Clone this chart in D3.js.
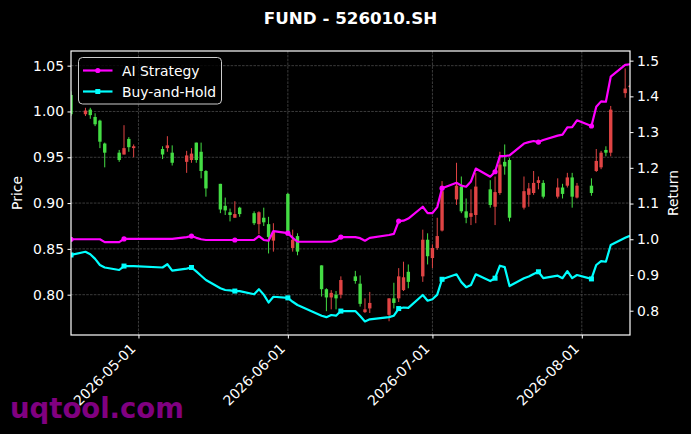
<!DOCTYPE html>
<html>
<head>
<meta charset="utf-8">
<script src="https://cdn.jsdelivr.net/npm/d3@7"></script>
<style>
  html, body { margin: 0; padding: 0; background: #000; }
  svg { display: block; }
  text { font-family: "DejaVu Sans", sans-serif; }
</style>
</head>
<body>
<script>
const dates = ["2026-04-17","2026-04-20","2026-04-21","2026-04-22","2026-04-23","2026-04-24","2026-04-27","2026-04-28","2026-04-29","2026-04-30",
"2026-05-06","2026-05-07","2026-05-08","2026-05-11","2026-05-12","2026-05-13","2026-05-14","2026-05-15",
"2026-05-18","2026-05-19","2026-05-20","2026-05-21","2026-05-22","2026-05-25","2026-05-26","2026-05-27","2026-05-28","2026-05-29",
"2026-06-01","2026-06-02","2026-06-03","2026-06-08","2026-06-09","2026-06-10","2026-06-11","2026-06-12",
"2026-06-15","2026-06-16","2026-06-17","2026-06-18","2026-06-22","2026-06-23","2026-06-24","2026-06-25","2026-06-26",
"2026-06-29","2026-06-30","2026-07-01","2026-07-02","2026-07-03","2026-07-06","2026-07-07","2026-07-08","2026-07-09","2026-07-10",
"2026-07-13","2026-07-14","2026-07-15","2026-07-16","2026-07-17","2026-07-20","2026-07-21","2026-07-22","2026-07-23","2026-07-24",
"2026-07-27","2026-07-28","2026-07-29","2026-07-30","2026-07-31","2026-08-03","2026-08-04","2026-08-05","2026-08-06","2026-08-07",
"2026-08-10","2026-08-11"];

const openP = [1.018,0.997,1.002,0.994,0.990,0.965,0.955,0.953,0.970,0.960,
0.959,0.960,0.955,0.945,0.947,0.966,0.956,0.935,
0.921,0.897,0.890,0.884,0.895,0.889,0.877,0.884,0.877,0.859,
0.910,0.851,0.864,0.832,0.806,0.797,0.800,0.800,
0.820,0.812,0.781,0.785,0.778,0.796,0.796,0.805,0.825,
0.820,0.860,0.840,0.851,0.870,0.904,0.918,0.891,0.885,0.887,
0.915,0.896,0.911,0.945,0.947,0.895,0.909,0.911,0.922,0.922,
0.907,0.917,0.919,0.928,0.906,0.919,0.935,0.939,0.958,0.955,
1.020,1.027];
const highP = [1.022,1.004,1.004,0.998,0.991,0.966,0.958,0.985,0.972,0.964,
0.962,0.973,0.963,0.957,0.960,0.966,0.966,0.936,
0.921,0.906,0.894,0.902,0.896,0.891,0.891,0.895,0.885,0.878,
0.911,0.871,0.867,0.832,0.807,0.805,0.804,0.820,
0.826,0.821,0.796,0.803,0.796,0.813,0.829,0.836,0.833,
0.871,0.867,0.855,0.884,0.924,0.944,0.929,0.905,0.915,0.933,
0.925,0.929,0.956,0.964,0.949,0.929,0.922,0.935,0.929,0.925,
0.927,0.921,0.933,0.933,0.922,0.927,0.959,0.957,0.962,1.006,
1.047,1.029];
const lowP = [0.995,0.995,0.992,0.984,0.960,0.939,0.945,0.953,0.956,0.950,
0.948,0.956,0.941,0.933,0.944,0.944,0.927,0.907,
0.889,0.887,0.880,0.884,0.885,0.876,0.866,0.875,0.845,0.847,
0.867,0.847,0.843,0.798,0.782,0.784,0.784,0.796,
0.812,0.787,0.780,0.780,0.771,0.785,0.792,0.804,0.807,
0.814,0.833,0.829,0.849,0.869,0.898,0.889,0.878,0.876,0.878,
0.895,0.876,0.909,0.931,0.880,0.893,0.896,0.909,0.915,0.905,
0.905,0.905,0.917,0.895,0.905,0.908,0.934,0.937,0.951,0.951,
1.015,1.026];
const closeP = [0.997,1.001,0.996,0.986,0.967,0.955,0.947,0.960,0.961,0.962,
0.953,0.963,0.944,0.952,0.954,0.947,0.935,0.916,
0.893,0.892,0.887,0.888,0.888,0.878,0.890,0.879,0.863,0.869,
0.869,0.860,0.847,0.806,0.797,0.802,0.796,0.816,
0.815,0.790,0.784,0.791,0.796,0.791,0.820,0.819,0.814,
0.860,0.842,0.851,0.864,0.913,0.919,0.891,0.884,0.889,0.918,
0.898,0.912,0.942,0.940,0.884,0.913,0.916,0.922,0.925,0.907,
0.917,0.910,0.928,0.907,0.919,0.911,0.946,0.955,0.955,1.002,
1.025,1.028];

const aiStrategy = [1.000,1.000,1.000,1.000,1.000,0.992,0.992,1.001,1.001,1.001,
1.001,1.001,1.001,1.006,1.009,1.004,1.000,0.998,
0.998,0.998,0.998,0.998,0.998,0.998,1.009,0.998,0.996,1.023,
1.017,1.004,0.993,0.993,0.993,0.993,0.997,1.006,
1.006,1.003,0.996,1.004,1.012,1.015,1.051,1.052,1.058,
1.091,1.073,1.073,1.090,1.143,1.158,1.150,1.147,1.162,1.198,
1.175,1.189,1.233,1.233,1.235,1.268,1.272,1.275,1.272,1.278,
1.290,1.293,1.313,1.314,1.333,1.317,1.371,1.386,1.385,1.455,
1.488,1.490];
const buyHold = [0.956,0.965,0.958,0.945,0.928,0.921,0.914,0.925,0.925,0.925,
0.921,0.930,0.912,0.918,0.921,0.910,0.898,0.886,
0.863,0.858,0.857,0.855,0.855,0.846,0.860,0.845,0.823,0.839,
0.836,0.825,0.816,0.786,0.782,0.788,0.786,0.799,
0.799,0.785,0.770,0.776,0.782,0.786,0.806,0.809,0.808,
0.844,0.828,0.832,0.845,0.888,0.902,0.880,0.866,0.872,0.902,
0.883,0.891,0.926,0.922,0.869,0.891,0.896,0.903,0.909,0.891,
0.898,0.891,0.911,0.891,0.900,0.889,0.928,0.939,0.937,0.984,
1.004,1.010];

const priceTicks = [0.80, 0.85, 0.90, 0.95, 1.00, 1.05];
const returnTicks = [0.8, 0.9, 1.0, 1.1, 1.2, 1.3, 1.4, 1.5];
const dateTicks = ["2026-05-01","2026-06-01","2026-07-01","2026-08-01"];
const seriesNames = ["AI Strategy", "Buy-and-Hold"];
const titleText = "FUND - 526010.SH";
const watermark = "uqtool.com";

const W = 691, H = 434;
const L = 71, R = 630, T = 51, B = 335;
const parse = d3.utcParse("%Y-%m-%d");
const fmt = d3.utcFormat("%Y-%m-%d");
const rows = dates.map((d, i) => ({date: parse(d), o: openP[i], h: highP[i], l: lowP[i], c: closeP[i], ai: aiStrategy[i], bh: buyHold[i]}));

const x = d3.scaleUtc().domain([rows[0].date, rows[rows.length-1].date]).range([L, R]);
const yP = d3.scaleLinear().domain([0.756, 1.066]).range([B, T]);
const yR = d3.scaleLinear().domain([0.732, 1.527]).range([B, T]);

const svg = d3.select("body").append("svg").attr("width", W).attr("height", H);
svg.append("rect").attr("width", W).attr("height", H).attr("fill", "#000");

svg.append("defs").append("clipPath").attr("id", "clip")
  .append("rect").attr("x", L).attr("y", T).attr("width", R - L).attr("height", B - T);

// grid
const grid = svg.append("g");
grid.selectAll(".gx").data(dateTicks).join("line")
  .attr("x1", d => x(parse(d))).attr("x2", d => x(parse(d)))
  .attr("y1", T).attr("y2", B)
  .attr("stroke", "#555").attr("stroke-width", 0.7).attr("stroke-dasharray", "2.6,1.2");
grid.selectAll(".gy").data(priceTicks).join("line")
  .attr("x1", L).attr("x2", R)
  .attr("y1", d => yP(d)).attr("y2", d => yP(d))
  .attr("stroke", "#555").attr("stroke-width", 0.7).attr("stroke-dasharray", "2.6,1.2");

// candles
const dayPx = x(parse("2026-04-18")) - x(parse("2026-04-17"));
const bw = dayPx * 0.7;
const upC = "#e04444", dnC = "#44dd44";
const cg = svg.append("g").attr("clip-path", "url(#clip)");
cg.selectAll(".wick").data(rows).join("line")
  .attr("x1", d => x(d.date)).attr("x2", d => x(d.date))
  .attr("y1", d => yP(d.h)).attr("y2", d => yP(d.l))
  .attr("stroke", d => d.c >= d.o ? upC : dnC).attr("stroke-width", 1);
cg.selectAll(".body").data(rows).join("rect")
  .attr("x", d => x(d.date) - bw / 2).attr("width", bw)
  .attr("y", d => yP(Math.max(d.o, d.c)))
  .attr("height", d => Math.max(1, Math.abs(yP(d.o) - yP(d.c))))
  .attr("fill", d => d.c >= d.o ? upC : dnC);

// lines
const lg = svg.append("g").attr("clip-path", "url(#clip)");
const colors = ["#ff00ff", "#00ffff"];
const keys = ["ai", "bh"];
keys.forEach((k, j) => {
  lg.append("path").datum(rows)
    .attr("d", d3.line().x(d => x(d.date)).y(d => yR(d[k])))
    .attr("fill", "none").attr("stroke", colors[j]).attr("stroke-width", 2.2)
    .attr("stroke-linejoin", "round");
  const mk = rows.filter((d, i) => i % 7 === 0);
  if (j === 0) {
    lg.selectAll(".m" + k).data(mk).join("circle")
      .attr("cx", d => x(d.date)).attr("cy", d => yR(d[k])).attr("r", 2.6).attr("fill", colors[j]);
  } else {
    lg.selectAll(".m" + k).data(mk).join("rect")
      .attr("x", d => x(d.date) - 2.5).attr("y", d => yR(d[k]) - 2.5)
      .attr("width", 5).attr("height", 5).attr("fill", colors[j]);
  }
});

// frame
svg.append("rect").attr("x", L).attr("y", T).attr("width", R - L).attr("height", B - T)
  .attr("fill", "none").attr("stroke", "#fff").attr("stroke-width", 1.2);

// axes
const fs = 13.9;
const xAxis = d3.axisBottom(x).tickValues(dateTicks.map(parse)).tickSize(3.5).tickFormat(fmt);
const gx = svg.append("g").attr("transform", `translate(0,${B})`).call(xAxis);
gx.select(".domain").remove();
gx.selectAll("line").attr("stroke", "#fff");
gx.selectAll("text").attr("fill", "#fff").attr("font-size", fs)
  .attr("text-anchor", "end").attr("dy", null).attr("y", null)
  .attr("transform", `translate(${-0.707 * 0.24 * fs},${7 + 0.707 * 0.76 * fs}) rotate(-45)`);

const yAxisL = d3.axisLeft(yP).tickValues(priceTicks).tickSize(3.5).tickPadding(3.5).tickFormat(d3.format(".2f"));
const gl = svg.append("g").attr("transform", `translate(${L},0)`).call(yAxisL);
gl.select(".domain").remove();
gl.selectAll("line").attr("stroke", "#fff");
gl.selectAll("text").attr("fill", "#fff").attr("font-size", fs);

const yAxisR = d3.axisRight(yR).tickValues(returnTicks).tickSize(3.5).tickPadding(3.5).tickFormat(d3.format(".1f"));
const gr = svg.append("g").attr("transform", `translate(${R},0)`).call(yAxisR);
gr.select(".domain").remove();
gr.selectAll("line").attr("stroke", "#fff");
gr.selectAll("text").attr("fill", "#fff").attr("font-size", fs);

// labels
svg.append("text").attr("transform", `translate(22,${(T + B) / 2}) rotate(-90)`)
  .attr("text-anchor", "middle").attr("fill", "#fff").attr("font-size", fs).text("Price");
svg.append("text").attr("transform", `translate(678,${(T + B) / 2}) rotate(-90)`)
  .attr("text-anchor", "middle").attr("fill", "#fff").attr("font-size", fs).text("Return");
svg.append("text").attr("x", (L + R) / 2).attr("y", 24).attr("text-anchor", "middle")
  .attr("fill", "#fff").attr("font-size", 16.7).attr("font-weight", "bold").text(titleText);

// legend
const leg = svg.append("g");
leg.append("rect").attr("x", 78.5).attr("y", 57.5).attr("width", 143).attr("height", 46.5)
  .attr("rx", 4).attr("fill", "#000").attr("fill-opacity", 0.8)
  .attr("stroke", "#ccc").attr("stroke-width", 1);
seriesNames.forEach((n, j) => {
  const cy = 70.5 + j * 21;
  leg.append("line").attr("x1", 83).attr("x2", 112.5).attr("y1", cy).attr("y2", cy)
    .attr("stroke", colors[j]).attr("stroke-width", 2.2);
  if (j === 0) leg.append("circle").attr("cx", 97.8).attr("cy", cy).attr("r", 2.6).attr("fill", colors[j]);
  else leg.append("rect").attr("x", 95.3).attr("y", cy - 2.5).attr("width", 5).attr("height", 5).attr("fill", colors[j]);
  leg.append("text").attr("x", 122).attr("y", cy + 5).attr("fill", "#fff").attr("font-size", fs).text(n);
});

// watermark
svg.append("text").attr("x", 10).attr("y", 418).attr("fill", "#800080")
  .attr("font-size", 27.5).attr("font-weight", "bold").text(watermark);
</script>
</body>
</html>
